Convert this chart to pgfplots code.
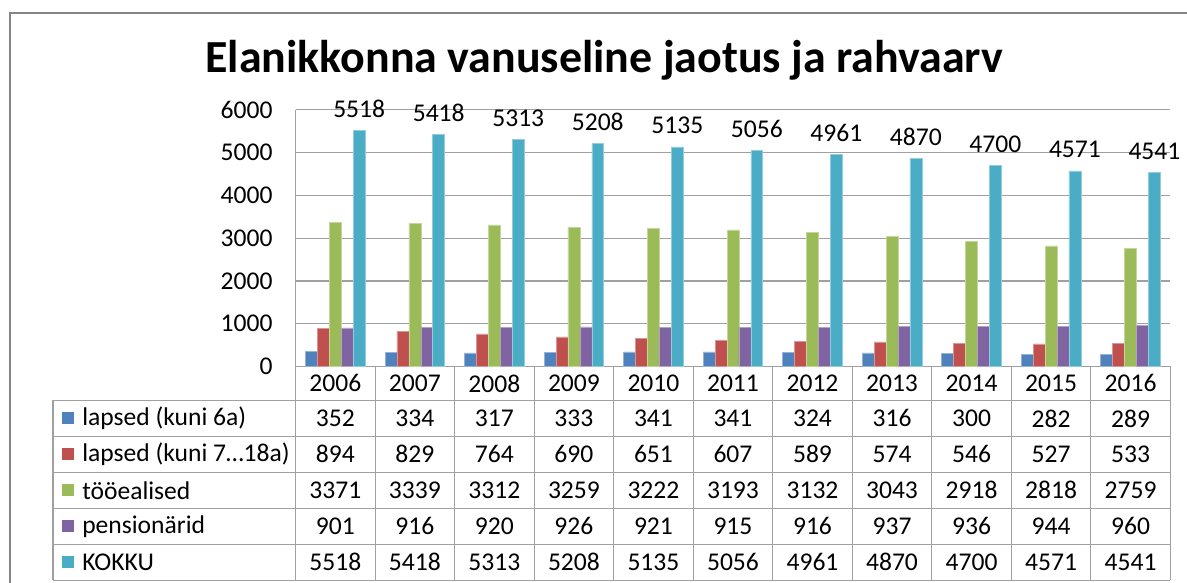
\documentclass[border=0pt]{standalone}
\usepackage{fontspec}
\setmainfont{Carlito}
\usepackage{pgfplots}
\usepackage{pgfplotstable}
\pgfplotsset{compat=1.18}
\pgfplotsset{/pgf/number format/assume math mode=true, /pgf/number format/1000 sep={}}

\definecolor{sblue}{HTML}{4F81BD}
\definecolor{sred}{HTML}{C0504D}
\definecolor{sgreen}{HTML}{9BBB59}
\definecolor{spurple}{HTML}{8064A2}
\definecolor{saqua}{HTML}{4BACC6}
\definecolor{linegray}{HTML}{A0A0A0}
\definecolor{framegray}{HTML}{858585}

% year, lapsed (kuni 6a), lapsed (kuni 7...18a), tooealised, pensionarid, KOKKU
\pgfplotstableread{
i year a   b   c    d   e
0 2006 352 894 3371 901 5518
1 2007 334 829 3339 916 5418
2 2008 317 764 3312 920 5313
3 2009 333 690 3259 926 5208
4 2010 341 651 3222 921 5135
5 2011 341 607 3193 915 5056
6 2012 324 589 3132 916 4961
7 2013 316 574 3043 937 4870
8 2014 300 546 2918 936 4700
9 2015 282 527 2818 944 4571
10 2016 289 533 2759 960 4541
}\data

\newcommand{\lbl}{\fontsize{12.8}{15}\selectfont}

\begin{document}
\begin{tikzpicture}
% pixel grid of the reference: x right, y down, 1px = 0.5pt
\begin{scope}[x=0.5pt,y=-0.5pt]
\useasboundingbox (0,0) rectangle (1187,583);
\draw[framegray, line width=1pt] (10,600) -- (10,13) -- (1200,13);
\node[font=\fontsize{23}{27}\selectfont\bfseries] at (605,60) {Elanikkonna vanuseline jaotus ja rahvaarv};
\end{scope}

\begin{axis}[
  at={(148pt,-183.5pt)}, anchor=south west,
  scale only axis, width=438pt, height=128.5pt,
  ybar=0pt, bar width=0.15,
  xmin=-0.5, xmax=10.5, ymin=0, ymax=6000,
  xtick=\empty, ytick distance=1000,
  axis line style={draw=none},
  major tick length=0pt,
  ymajorgrids, grid style={linegray, line width=0.6pt},
  yticklabel style={font=\lbl, xshift=-8pt},
  clip=false,
]
\addplot[fill=sblue, draw=sblue!60!white, line width=0.3pt] table[x=i, y=a] {\data};
\addplot[fill=sred, draw=sred!60!white, line width=0.3pt] table[x=i, y=b] {\data};
\addplot[fill=sgreen, draw=sgreen!60!white, line width=0.3pt] table[x=i, y=c] {\data};
\addplot[fill=spurple, draw=spurple!60!white, line width=0.3pt] table[x=i, y=d] {\data};
\addplot[fill=saqua, draw=saqua!60!white, line width=0.3pt,
  nodes near coords,
  every node near coord/.append style={font=\lbl, text=black, yshift=3pt}] table[x=i, y=e] {\data};
\end{axis}

% data table below the plot
\begin{scope}[x=0.5pt,y=-0.5pt]
\draw[linegray, line width=0.6pt] (296,110) -- (296,581);
\foreach \k in {1,...,11} \draw[linegray, line width=0.6pt] ({296+876/11*\k},367) -- ({296+876/11*\k},581);
\draw[linegray, line width=0.6pt] (53,401) -- (53,581);
\foreach \yy in {401,437,473,509,545,581} \draw[linegray, line width=0.6pt] (53,\yy) -- (1172,\yy);
\foreach \nm/\col [count=\r] in {lapsed (kuni 6a)/sblue, lapsed (kuni 7…18a)/sred, tööealised/sgreen, pensionärid/spurple, KOKKU/saqua} {
  \fill[\col] (62,{401+36*\r-18-6}) rectangle (74,{401+36*\r-18+6});
  \node[font=\lbl, anchor=west, inner sep=0pt] at (82,{401+36*\r-18}) {\nm};
}
\foreach \i in {0,...,10} {
  \pgfplotstablegetelem{\i}{year}\of\data
  \node[font=\lbl] at ({296+876/11*(\i+0.5)},384) {\pgfplotsretval};
  \foreach \c [count=\r] in {a,b,c,d,e} {
    \pgfplotstablegetelem{\i}{\c}\of\data
    \node[font=\lbl] at ({296+876/11*(\i+0.5)},{401+36*\r-18}) {\pgfplotsretval};
  }
}
\end{scope}
\end{tikzpicture}
\end{document}
